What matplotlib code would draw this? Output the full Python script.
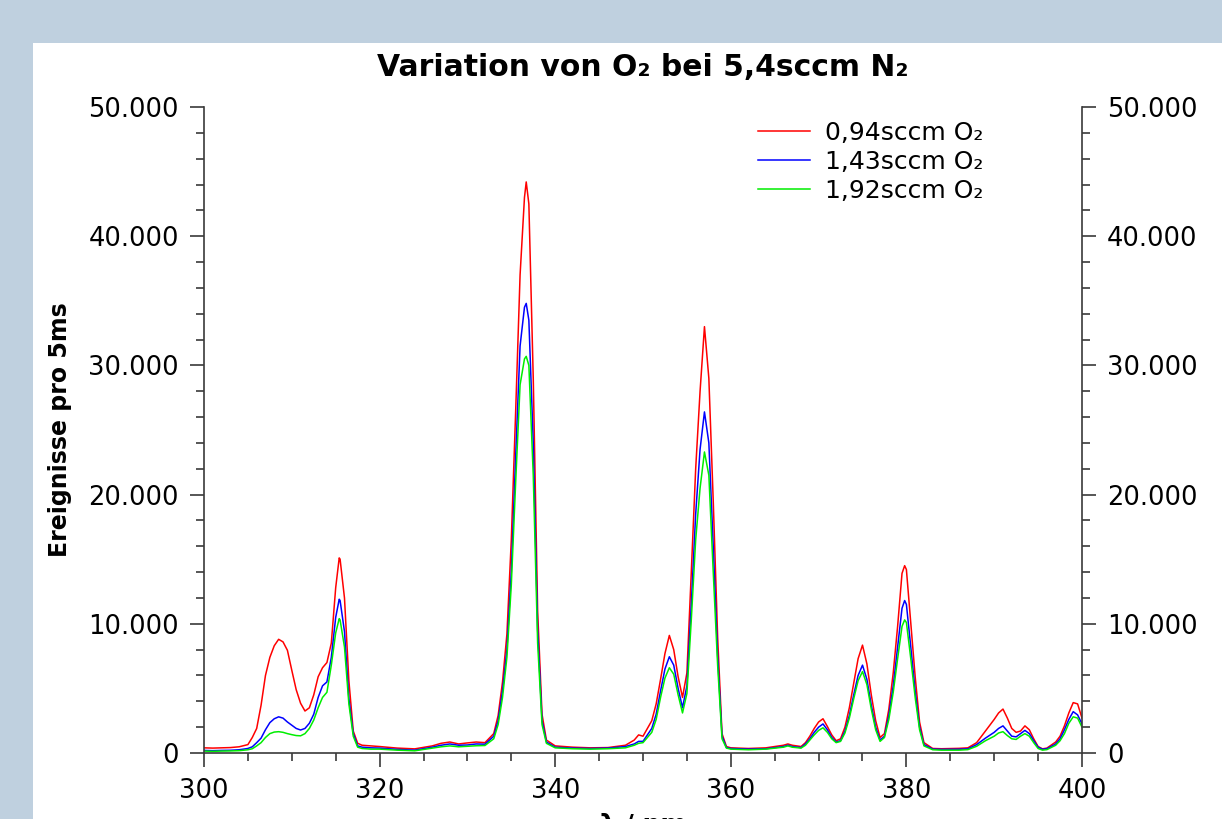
import matplotlib
matplotlib.use("Agg")
import matplotlib.pyplot as plt
from matplotlib.patches import Rectangle
from matplotlib.ticker import MultipleLocator, FuncFormatter

# wavelength grid (nm) and counts per 5 ms for the three O2 flows
wl = [300, 301, 302, 303, 304, 305, 305.5, 306, 306.5, 307, 307.5, 308, 308.5, 309, 309.5,
      310, 310.5, 311, 311.5, 312, 312.5, 313, 313.5, 314, 314.5, 315, 315.4, 315.5, 316,
      316.5, 317, 317.5, 318, 319, 320, 322, 324, 326, 327, 328, 329, 330, 331, 332, 333,
      333.5, 334, 334.5, 335, 335.5, 336, 336.5, 336.7, 337, 337.5, 338, 338.5, 339, 340,
      342, 344, 346, 348, 349, 349.5, 350, 351, 351.5, 352, 352.5, 353, 353.5, 354, 354.5,
      355, 355.5, 356, 356.5, 357, 357.5, 358, 358.5, 359, 359.5, 360, 362, 364, 366, 366.5,
      367, 368, 368.5, 369, 369.5, 370, 370.5, 371, 371.5, 372, 372.5, 373, 373.5, 374,
      374.5, 375, 375.5, 376, 376.5, 377, 377.5, 378, 378.5, 379, 379.5, 379.8, 380, 380.5,
      381, 381.5, 382, 383, 384, 386, 387, 388, 389, 390, 390.5, 391, 391.5, 392, 392.5,
      393, 393.5, 394, 394.5, 395, 395.5, 396, 397, 397.5, 398, 398.5, 399, 399.5, 400]

o2_094 = [400, 380, 400, 420, 480, 650, 1200, 1900, 3700, 6000, 7400, 8300, 8800, 8600, 7950,
          6400, 4900, 3850, 3250, 3500, 4500, 5900, 6600, 7000, 8500, 12800, 15100, 15000, 12000,
          5600, 1700, 750, 600, 550, 500, 380, 320, 550, 750, 850, 700, 780, 850, 800, 1500,
          2900, 5500, 9200, 16500, 26500, 37000, 43000, 44200, 42500, 29000, 11000, 3000, 1000, 550,
          450, 400, 420, 600, 1000, 1400, 1300, 2500, 3800, 5700, 7700, 9100, 8000, 5900, 4300,
          6200, 14000, 22000, 28000, 33000, 29000, 19500, 9000, 1500, 500, 400, 350, 400, 600, 700,
          600, 500, 800, 1300, 1900, 2400, 2650, 2050, 1400, 950, 1100, 2000, 3500, 5400,
          7300, 8350, 6900, 4500, 2500, 1200, 1500, 3400, 6200, 9800, 13900, 14500, 14200, 10000,
          5900, 2400, 800, 350, 330, 360, 400, 800, 1700, 2600, 3100, 3400, 2700, 1900, 1600,
          1700, 2100, 1800, 1100, 500, 320, 380, 850, 1300, 2100, 3100, 3900, 3800, 2700]

o2_143 = [200, 180, 200, 210, 250, 350, 480, 800, 1150, 1800, 2350, 2650, 2800, 2700, 2400,
          2150, 1900, 1780, 1900, 2300, 3000, 4300, 5200, 5500, 7400, 10500, 11900, 11800, 9400,
          4200, 1500, 550, 450, 400, 380, 280, 220, 450, 600, 700, 600, 620, 700, 680, 1300,
          2500, 4800, 8000, 14000, 23000, 31500, 34500, 34800, 33500, 24000, 9500, 2500, 850, 450,
          380, 350, 380, 500, 700, 900, 900, 1900, 3000, 4800, 6500, 7450, 6800, 5000, 3500,
          5200, 11500, 18500, 23500, 26400, 24000, 16000, 7500, 1300, 420, 350, 300, 330, 500, 600,
          500, 420, 700, 1100, 1600, 2000, 2250, 1800, 1200, 850, 950, 1700, 2900, 4500,
          6000, 6800, 5700, 3700, 2000, 1000, 1300, 2900, 5200, 8200, 11200, 11800, 11500, 8200,
          4800, 2000, 650, 300, 280, 290, 320, 650, 1150, 1600, 1900, 2100, 1700, 1300, 1250,
          1500, 1750, 1500, 950, 450, 290, 330, 700, 1100, 1800, 2600, 3200, 2950, 2250]

o2_192 = [150, 130, 150, 160, 180, 250, 330, 550, 800, 1200, 1500, 1620, 1650, 1600, 1500,
          1420, 1350, 1330, 1500, 1900, 2550, 3500, 4300, 4700, 6800, 9300, 10400, 10300, 8200,
          3800, 1300, 450, 350, 300, 300, 220, 170, 380, 480, 550, 480, 520, 560, 580, 1100,
          2200, 4300, 7400, 13000, 21000, 28500, 30500, 30700, 30000, 21500, 8500, 2200, 750, 400,
          330, 300, 330, 400, 600, 750, 800, 1600, 2600, 4300, 5800, 6600, 6100, 4500, 3100,
          4600, 10300, 16500, 20500, 23300, 21500, 14000, 6800, 1100, 380, 300, 250, 300, 450, 550,
          450, 380, 600, 1000, 1400, 1750, 1950, 1600, 1100, 800, 900, 1550, 2700, 4200,
          5600, 6300, 5300, 3400, 1800, 900, 1200, 2600, 4700, 7300, 9800, 10300, 10100, 7300,
          4300, 1800, 550, 250, 220, 220, 260, 520, 950, 1300, 1550, 1650, 1350, 1100, 1050,
          1300, 1500, 1300, 800, 350, 220, 260, 600, 950, 1500, 2300, 2800, 2700, 2000]

labels = ["0,94sccm O₂", "1,43sccm O₂", "1,92sccm O₂"]
colors = ["#ff0000", "#0000ff", "#00ee00"]

W, H = 1222, 819
fig = plt.figure(figsize=(W / 100, H / 100), dpi=100, facecolor="#bfd0df")
# white panel behind the chart
fig.patches.append(Rectangle((33 / W, 0), 1, (H - 43) / H, transform=fig.transFigure,
                             facecolor="white", edgecolor="none", zorder=-5))

ax = fig.add_axes([204 / W, (H - 753) / H, (1082 - 204) / W, (753 - 107) / H])
ax.set_zorder(2)
ax.set_facecolor("white")

for series, lab, col in zip([o2_094, o2_143, o2_192], labels, colors):
    ax.plot(wl, series, color=col, lw=1.1, label=lab)

ax.set_xlim(300, 400)
ax.set_ylim(0, 50000)

ax.xaxis.set_major_locator(MultipleLocator(20))
ax.xaxis.set_minor_locator(MultipleLocator(5))
ax.yaxis.set_major_locator(MultipleLocator(10000))
ax.yaxis.set_minor_locator(MultipleLocator(2000))
ax.yaxis.set_major_formatter(FuncFormatter(lambda v, p: f"{int(v):,}".replace(",", ".")))

ax.spines["top"].set_visible(False)
for s in ["left", "right", "bottom"]:
    ax.spines[s].set_color("#3a3a3a")
    ax.spines[s].set_linewidth(1.2)

ax.yaxis.set_ticks_position("both")
ax.tick_params(axis="y", which="both", direction="out", labelright=True, color="#3a3a3a")
ax.tick_params(axis="x", which="both", direction="out", top=False, color="#3a3a3a")
ax.tick_params(which="major", length=10, width=1.2, labelsize=18.5, pad=8)
ax.tick_params(which="minor", length=5.5, width=1.2)

leg = ax.legend(loc="upper left", bbox_to_anchor=(0.622, 0.99), frameon=False,
                fontsize=18, handlelength=2.1, handletextpad=0.6, labelspacing=0.2,
                borderpad=0, borderaxespad=0.3)

fig.text(643 / W, 1 - 68 / H, "Variation von O₂ bei 5,4sccm N₂", ha="center", va="center",
         fontsize=21.5, fontweight="bold")
fig.text(60 / W, 1 - 430 / H, "Ereignisse pro 5ms", ha="center", va="center",
         rotation=90, fontsize=17, fontweight="bold")
fig.text(643 / W, 1 - 813 / H, "λ / nm", ha="center", va="top",
         fontsize=18, fontweight="bold")

fig.savefig("out.png", dpi=100, facecolor=fig.get_facecolor())
